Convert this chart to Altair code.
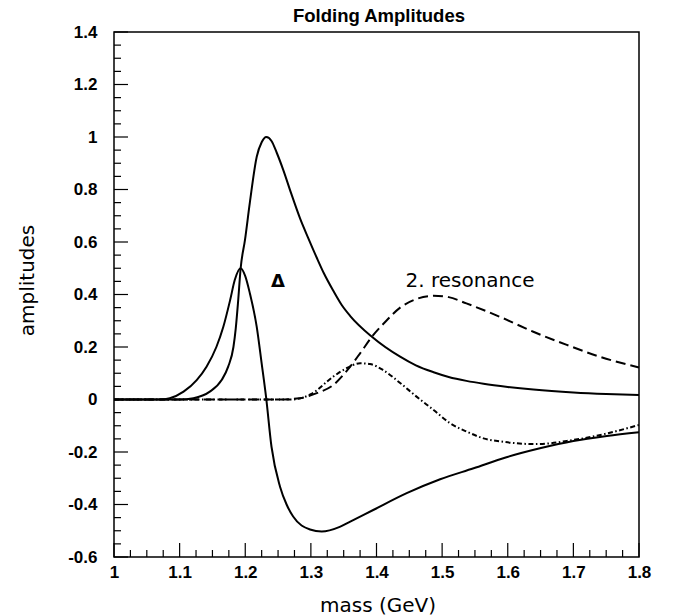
import altair as alt
import pandas as pd

# ---------------- data ----------------
# solid curve with the big peak
xa = [1.0, 1.10, 1.121, 1.146, 1.164, 1.174, 1.182, 1.1855, 1.189, 1.193, 1.1996, 1.207,
      1.2175, 1.225, 1.232, 1.24, 1.248, 1.258, 1.27, 1.2835, 1.296, 1.309, 1.32, 1.334,
      1.347, 1.36, 1.393, 1.436, 1.46, 1.487, 1.51, 1.537, 1.563, 1.6, 1.639, 1.7, 1.75, 1.8]
ya = [0, 0, 0.005, 0.03, 0.074, 0.125, 0.20, 0.27, 0.37, 0.50, 0.608, 0.75,
      0.925, 0.98, 1.0, 0.985, 0.94, 0.874, 0.785, 0.69, 0.615, 0.54, 0.48, 0.415,
      0.36, 0.318, 0.239, 0.163, 0.13, 0.104, 0.086, 0.071, 0.06, 0.048, 0.038, 0.027, 0.021, 0.017]

# solid curve with the 0.5 peak and the -0.5 dip
xb = [1.0, 1.07, 1.085, 1.106, 1.126, 1.141, 1.156, 1.1666, 1.177, 1.184, 1.193, 1.2,
      1.207, 1.2175, 1.225, 1.2317, 1.240, 1.253, 1.263, 1.273, 1.2987, 1.3165, 1.344,
      1.36, 1.395, 1.446, 1.497, 1.548, 1.598, 1.649, 1.70, 1.751, 1.8]
yb = [0, 0, 0.005, 0.03, 0.074, 0.125, 0.20, 0.277, 0.379, 0.455, 0.50, 0.47,
      0.405, 0.277, 0.138, 0.01, -0.18, -0.332, -0.40, -0.446, -0.495, -0.503, -0.485,
      -0.465, -0.421, -0.357, -0.304, -0.262, -0.220, -0.186, -0.158, -0.139, -0.125]

# dashed curve (2. resonance)
xc = [1.0, 1.25, 1.283, 1.31, 1.334, 1.355, 1.375, 1.393, 1.415, 1.436, 1.46, 1.487,
      1.51, 1.537, 1.588, 1.639, 1.69, 1.74, 1.8]
yc = [0, 0, 0.005, 0.025, 0.055, 0.11, 0.176, 0.239, 0.30, 0.35, 0.382, 0.395,
      0.39, 0.366, 0.315, 0.258, 0.208, 0.163, 0.122]

# dash-dot curve
xd = [1.0, 1.27, 1.3, 1.334, 1.355, 1.375, 1.39, 1.41, 1.435, 1.461, 1.487, 1.512,
      1.54, 1.563, 1.59, 1.614, 1.64, 1.664, 1.69, 1.715, 1.75, 1.8]
yd = [0, 0, 0.02, 0.087, 0.12, 0.138, 0.135, 0.112, 0.065, 0.011, -0.04, -0.09,
      -0.125, -0.148, -0.16, -0.167, -0.17, -0.167, -0.158, -0.148, -0.13, -0.097]

# tick values
x_ticks = [1.0, 1.1, 1.2, 1.3, 1.4, 1.5, 1.6, 1.7, 1.8]
y_ticks = [-0.6, -0.4, -0.2, 0.0, 0.2, 0.4, 0.6, 0.8, 1.0, 1.2, 1.4]
x_minor = [round(1.0 + 0.025 * i, 3) for i in range(33) if i % 4]
y_minor = [round(-0.6 + 0.05 * i, 3) for i in range(41) if i % 4]

# texts
title_text = ["Folding Amplitudes"]
delta_label = ["Δ"]
delta_x = [1.25]
delta_y = [0.449]
res_label = ["2. resonance"]
res_x = [1.5425]
res_y = [0.427]

# ---------------- chart ----------------
W, H = 525, 525
xs = alt.Scale(domain=[1.0, 1.8], nice=False, zero=False)
ys = alt.Scale(domain=[-0.6, 1.4], nice=False, zero=False)

fmt = "'' + round(datum.value * 10) / 10"

xaxis = alt.Axis(values=x_ticks, ticks=False, domain=False, grid=False,
                 labelFont="Liberation Sans", labelFontWeight="bold", labelFontSize=17,
                 labelColor="black", labelPadding=7, labelExpr=fmt,
                 labelFlush=False, labelOverlap=False,
                 title="mass (GeV)", titleFont="DejaVu Sans", titleFontSize=20,
                 titleFontWeight="normal", titleColor="black",
                 titleX=263.5, titleY=54, titleAlign="center", titleBaseline="alphabetic")
yaxis = alt.Axis(values=y_ticks, ticks=False, domain=False, grid=False,
                 labelFont="Liberation Sans", labelFontWeight="bold", labelFontSize=17,
                 labelColor="black", labelPadding=17, labelExpr=fmt,
                 labelFlush=False, labelOverlap=False,
                 title="amplitudes", titleFont="DejaVu Sans", titleFontSize=20,
                 titleFontWeight="normal", titleColor="black", titleAngle=270,
                 titleX=-87, titleY=248, titleAlign="center", titleBaseline="middle")

X = lambda f: alt.X(f"{f}:Q", scale=xs, axis=xaxis, title="mass (GeV)")
Y = lambda f: alt.Y(f"{f}:Q", scale=ys, axis=yaxis, title="amplitudes")


def curve(xv, yv, dash=None):
    df = pd.DataFrame({"mass": xv, "amp": yv})
    kw = dict(color="black", strokeWidth=2, interpolate="monotone")
    if dash:
        kw["strokeDash"] = dash
    return alt.Chart(df).mark_line(**kw).encode(x=X("mass"), y=Y("amp"))


def xtick(vals, length):
    return alt.Chart(pd.DataFrame({"mass": vals})).mark_rule(color="black", strokeWidth=1.2).encode(
        x=X("mass"), y=alt.value(H), y2=alt.value(H - length))


def ytick(vals, length):
    return alt.Chart(pd.DataFrame({"amp": vals})).mark_rule(color="black", strokeWidth=1.2).encode(
        y=Y("amp"), x=alt.value(0), x2=alt.value(length))


lineA = curve(xa, ya)
lineB = curve(xb, yb)
lineC = curve(xc, yc, dash=[10, 5])
lineD = curve(xd, yd, dash=[5, 2.5, 1.5, 2.5])

delta = alt.Chart(pd.DataFrame({"mass": delta_x, "amp": delta_y, "t": delta_label})).mark_text(
    font="DejaVu Sans", fontWeight="bold", fontSize=18, align="center", baseline="middle",
    color="black").encode(x=X("mass"), y=Y("amp"), text="t:N")
res = alt.Chart(pd.DataFrame({"mass": res_x, "amp": res_y, "t": res_label})).mark_text(
    font="DejaVu Sans", fontSize=20, align="center", baseline="alphabetic",
    color="black").encode(x=X("mass"), y=Y("amp"), text="t:N")
title = alt.Chart(pd.DataFrame({"t": title_text})).mark_text(
    font="Liberation Sans", fontWeight="bold", fontSize=18.5, align="center",
    baseline="alphabetic", color="black").encode(
    x=alt.value(265), y=alt.value(-10.3), text="t:N")

chart = alt.layer(
    lineA, lineB, lineC, lineD,
    xtick(x_ticks, 14), xtick(x_minor, 7),
    ytick(y_ticks, 14), ytick(y_minor, 7),
    delta, res, title,
).properties(
    width=W, height=H,
    padding={"left": 114, "top": 32, "right": 36, "bottom": 58},
    autosize=alt.AutoSizeParams(type="none"),
).configure(
    background="white",
    view=alt.ViewConfig(stroke="black", strokeWidth=1.5),
)

chart.save("out.html", embed_options={"renderer": "svg", "actions": False})
